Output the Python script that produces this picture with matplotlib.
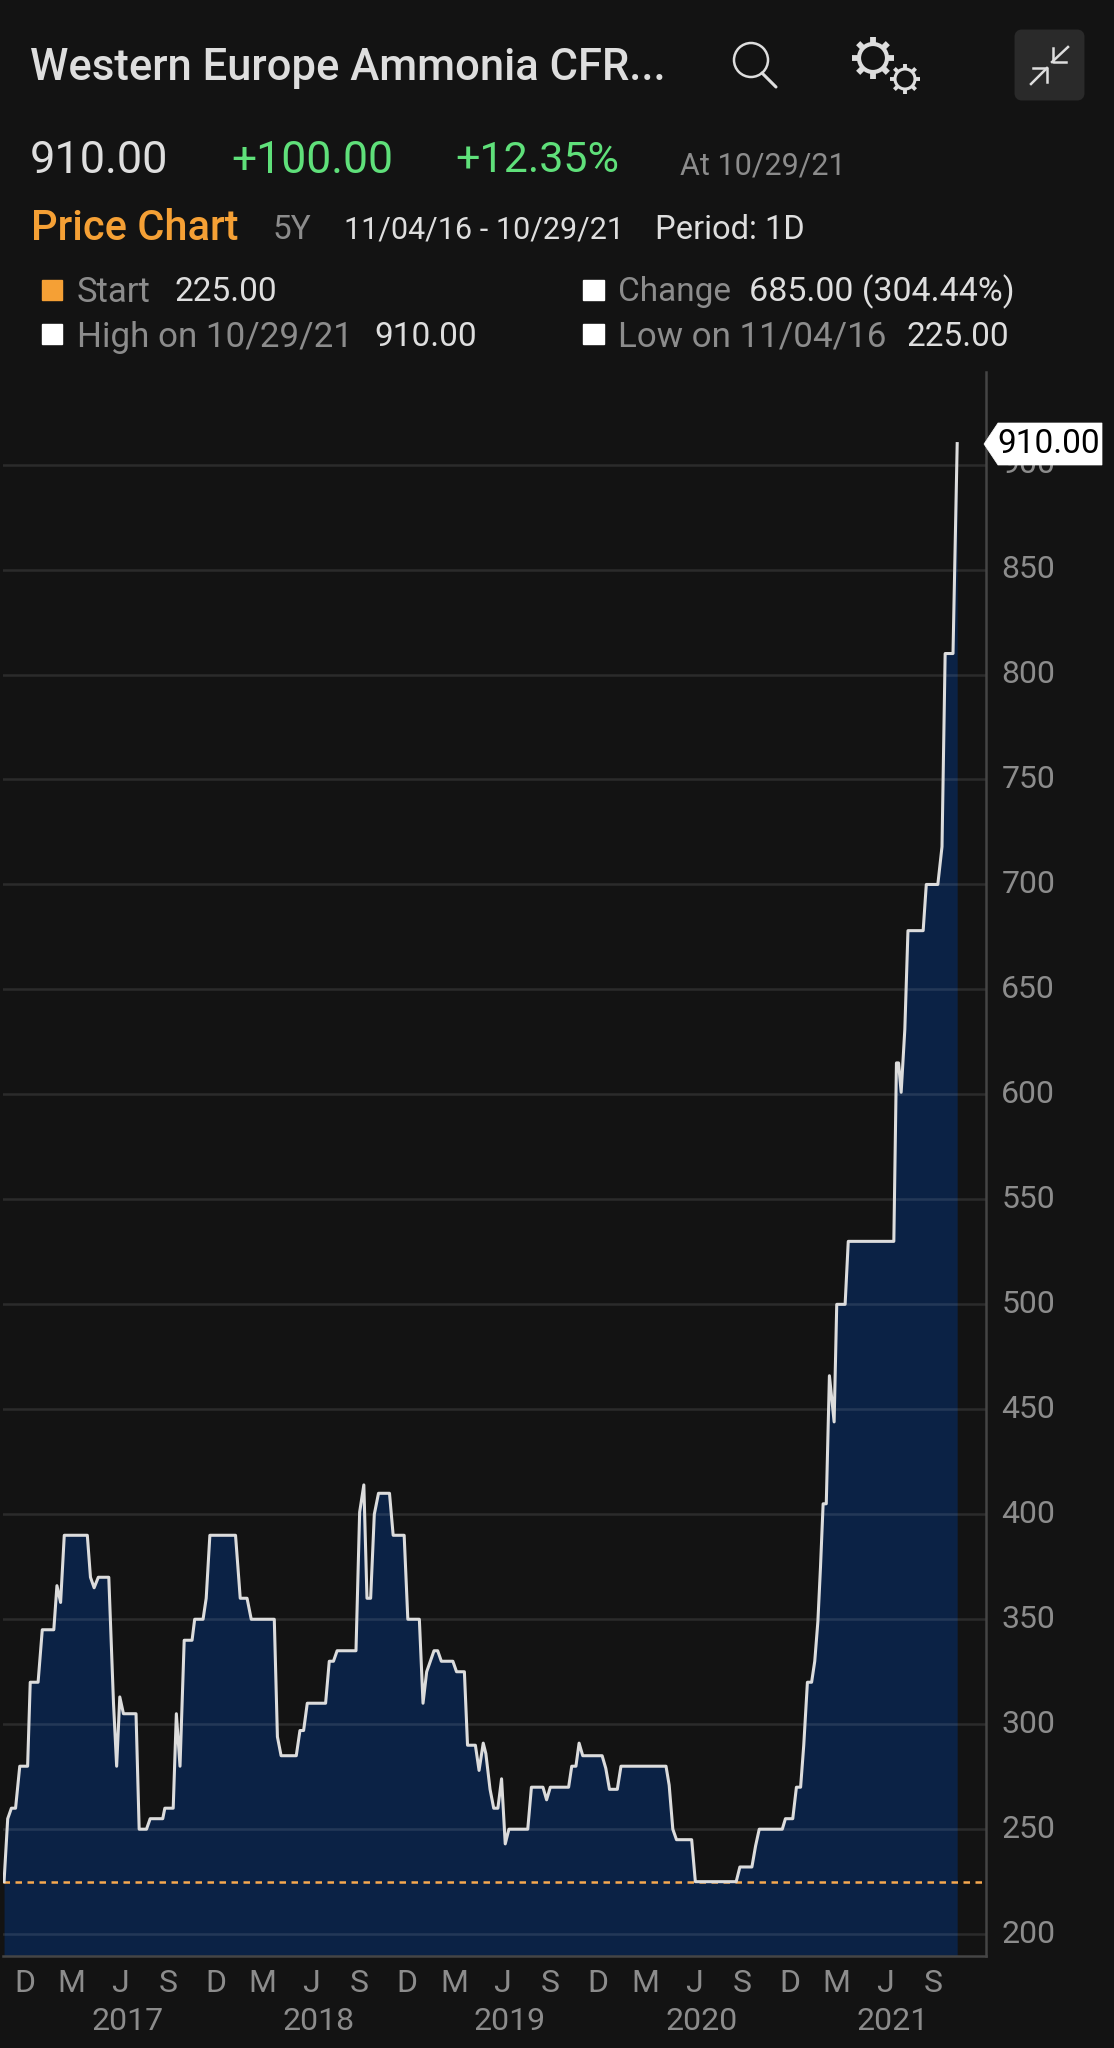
import matplotlib
matplotlib.use("Agg")
import matplotlib.pyplot as plt
import matplotlib.dates as mdates
import numpy as np
from matplotlib.patches import Circle, FancyBboxPatch, Polygon, Rectangle
from matplotlib.transforms import ScaledTranslation
from datetime import date, timedelta

# dias desde el 11/04/16 y precio
days = [0, 7, 14, 22, 30, 45, 50, 65, 73, 95, 101, 108, 115, 159, 165, 172, 180, 200, 209, 215, 221, 228,
        252, 258, 272, 279, 303, 307, 323, 329, 336, 344, 359, 364, 380, 386, 393, 442, 451, 464, 472, 516,
        522, 529, 558, 565, 572, 579, 614, 621, 629, 636, 672, 679, 687, 693, 700, 707, 715, 736, 743, 764,
        771, 793, 800, 807, 821, 828, 835, 857, 864, 879, 885, 900, 907, 915, 920, 928, 935, 943, 950, 957,
        964, 1000, 1007, 1029, 1036, 1043, 1078, 1084, 1092, 1098, 1105, 1142, 1149, 1156, 1171, 1178, 1264,
        1270, 1277, 1284, 1313, 1320, 1398, 1405, 1428, 1435, 1442, 1486, 1492, 1506, 1513, 1521, 1527, 1534,
        1542, 1548, 1554, 1559, 1564, 1570, 1576, 1585, 1590, 1606, 1612, 1699, 1704, 1708, 1713, 1720, 1726,
        1755, 1761, 1783, 1791, 1797, 1812, 1820]
prices = [225, 255, 260, 260, 280, 280, 320, 320, 345, 345, 366, 358, 390, 390, 370, 365, 370, 370, 310, 280, 313, 305,
          305, 250, 250, 255, 255, 260, 260, 305, 280, 340, 340, 350, 350, 360, 390, 390, 360, 360, 350, 350,
          294, 285, 285, 297, 297, 310, 310, 330, 330, 335, 335, 401, 414, 360, 360, 400, 410, 410, 390, 390,
          350, 350, 310, 325, 335, 335, 330, 330, 325, 325, 290, 290, 278, 291, 286, 269, 260, 260, 274, 243,
          250, 250, 270, 270, 264, 270, 270, 280, 280, 291, 285, 285, 279, 269, 269, 280, 280,
          271, 250, 245, 245, 225, 225, 232, 232, 242, 250, 250, 255, 255, 270, 270, 290, 320,
          320, 330, 349, 375, 405, 405, 466, 444, 500, 500, 530, 530, 615, 615, 601, 631, 678,
          678, 700, 700, 718, 810, 810, 910]
y_ticks = [200, 250, 300, 350, 400, 450, 500, 550, 600, 650, 700, 750, 800, 850, 900]
month_letters = ["D", "M", "J", "S"]
years = [2017, 2018, 2019, 2020, 2021]

start = date(2016, 11, 4)
fechas = [start + timedelta(days=d) for d in days]

W, H = 1114, 2048
BG = "#131313"
GRIS = "#8c8c8c"
CLARO = "#dedede"
NARANJA = "#f5a035"
VERDE = "#5fe07a"
FUENTE = "Roboto"

fig = plt.figure(figsize=(W / 100, H / 100), dpi=100, facecolor=BG)

# grafica principal
left, right, top, bottom = 3, 986, 372, 1956
ax = fig.add_axes([left / W, 1 - bottom / H, (right - left) / W, (bottom - top) / H], facecolor=BG)
ax.set_xlim(mdates.date2num(start) - 2, mdates.date2num(start) + 1875)
ax.set_ylim(189.6, 944.1)
ax.fill_between(fechas, prices, 189.6, color="#0b2245", lw=0, zorder=1)
ax.set_yticks(y_ticks)
ax.grid(axis="y", color="white", alpha=0.10, lw=1.8, zorder=2)
ax.axhline(225, color="#f7a94f", lw=1.8, dashes=(2.6, 2.2), zorder=3)
ax.plot(fechas, prices, color="#dcdcdc", lw=2.2, zorder=4)

for s in ["top", "left"]:
    ax.spines[s].set_visible(False)
for s in ["right", "bottom"]:
    ax.spines[s].set_color("#454545")
    ax.spines[s].set_linewidth(1.8)
ax.yaxis.tick_right()
ax.tick_params(axis="y", length=0, pad=11, labelcolor=GRIS, labelsize=23)
sube = ScaledTranslation(0, 3 / 100, fig.dpi_scale_trans)
for lab in ax.get_yticklabels():
    lab.set_family(FUENTE)
    lab.set_transform(lab.get_transform() + sube)

# etiquetas de meses (a mitad de mes) y de años (a mitad de año)
month_pos = []
month_lab = []
for y in range(2016, 2022):
    for m, l in zip([12, 3, 6, 9], month_letters):
        yy = y if m == 12 else y + 1
        if date(yy, m, 13) <= date(2021, 9, 15):
            month_pos.append(mdates.date2num(date(yy, m, 13)))
            month_lab.append(l)
month_pos, month_lab = zip(*sorted(zip(month_pos, month_lab)))
ax.set_xticks(month_pos)
ax.set_xticklabels(month_lab, fontsize=23, color=GRIS, family=FUENTE)
ax.tick_params(axis="x", length=0, pad=9)
ax.set_xticks([mdates.date2num(date(y, 6, 28)) for y in years], minor=True)
ax.set_xticklabels([str(y) for y in years], minor=True, fontsize=23, color=GRIS, family=FUENTE)
ax.tick_params(axis="x", which="minor", length=0, pad=37)

# capa de la interfaz en pixeles
ui = fig.add_axes([0, 0, 1, 1], facecolor="none")
ui.set_xlim(0, W)
ui.set_ylim(H, 0)
ui.axis("off")


def txt(x, y, s, size, color=CLARO, family=FUENTE, **kw):
    ui.text(x, y, s, fontsize=size, color=color, family=family, va="center", ha="left", **kw)


def engrane(cx, cy, r, r_ext, n, lw_anillo, lw_diente):
    # anillo y dientes de un engrane
    ui.add_patch(Circle((cx, cy), r, fill=False, ec=CLARO, lw=lw_anillo))
    for a in np.arange(n) * 2 * np.pi / n:
        ui.plot([cx + r * np.cos(a), cx + r_ext * np.cos(a)],
                [cy + r * np.sin(a), cy + r_ext * np.sin(a)],
                color=CLARO, lw=lw_diente, solid_capstyle="butt")


txt(30, 68, "Western Europe Ammonia CFR...", 31.4, CLARO, fontweight="medium")
txt(30, 161, "910.00", 32.5)
txt(231, 161, "+100.00", 32, VERDE)
txt(455, 161, "+12.35%", 31, VERDE)
txt(680, 166, "At 10/29/21", 22, GRIS)
txt(31, 229, "Price Chart", 30, NARANJA, fontweight="medium")
txt(273, 230, "5Y", 24, GRIS)
txt(344, 230, "11/04/16 - 10/29/21", 22, CLARO)
txt(655, 230, "Period: 1D", 23.5, CLARO)

ui.add_patch(Rectangle((42, 280), 20, 20, color=NARANJA))
ui.add_patch(Rectangle((42, 324), 20, 20, color="white"))
ui.add_patch(Rectangle((583, 280), 21, 20, color="white"))
ui.add_patch(Rectangle((583, 324), 21, 20, color="white"))
txt(77, 292, "Start", 25, GRIS)
txt(174, 292, "225.00", 24)
txt(77, 337, "High on 10/29/21", 25.2, GRIS)
txt(374, 337, "910.00", 24)
txt(618, 292, "Change", 24, GRIS)
txt(749, 292, "685.00 (304.44%)", 24.5)
txt(618, 337, "Low on 11/04/16", 25.2, GRIS)
txt(907, 337, "225.00", 24)

# iconos
ui.add_patch(Circle((751, 60), 17, fill=False, ec=CLARO, lw=1.8))
ui.plot([762, 776], [73, 87], color=CLARO, lw=2.2, solid_capstyle="round")
engrane(873, 58, 14, 21, 8, 3, 4.2)
engrane(905, 79, 10, 15, 8, 2.2, 2.8)
ui.add_patch(FancyBboxPatch((1018, 33), 63, 64, boxstyle="round,pad=0,rounding_size=4", fc="#2a2a2a", ec="#2a2a2a", lw=5))
ui.plot([1052, 1068], [62, 47], color=CLARO, lw=1.8)
ui.plot([1053, 1053, 1066], [48, 62, 62], color=CLARO, lw=1.8)
ui.plot([1031, 1047], [84, 68], color=CLARO, lw=1.8)
ui.plot([1033, 1047, 1047], [68, 68, 82], color=CLARO, lw=1.8)

# etiqueta del ultimo precio
ui.add_patch(Polygon([(984, 444), (998, 423), (1102, 423), (1102, 465), (998, 465)], closed=True, fc="white", ec="white", lw=0.5, zorder=6))
ui.text(1049, 444, "910.00", fontsize=24, color="black", family=FUENTE, ha="center", va="center", zorder=7)

fig.savefig("out.png", dpi=100, facecolor=BG)
